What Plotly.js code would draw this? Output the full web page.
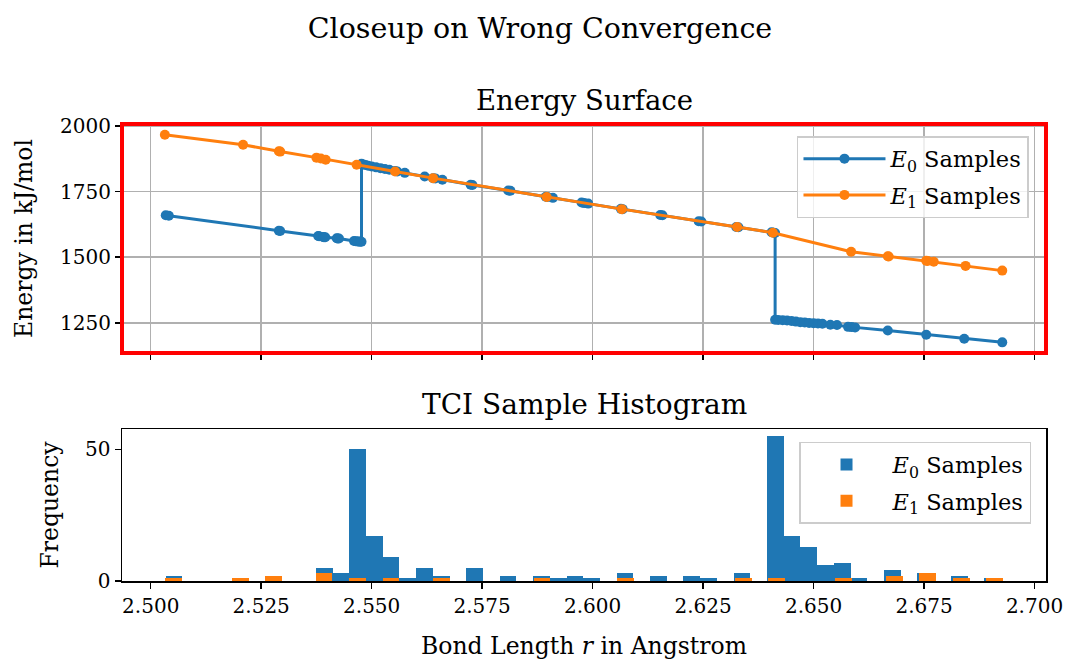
<!DOCTYPE html>
<html><head><meta charset="utf-8">
<script src="https://cdn.plot.ly/plotly-3.0.1.min.js"></script>
<style>html,body{margin:0;padding:0;background:#fff}#chart{width:1069px;height:661px}</style>
</head><body><div id="chart"></div>
<script>
// ---- Energy surface samples ----
const e0BondLength = [2.5034,2.5041,2.5290,2.5293,2.5379,2.5381,2.5390,2.5392,2.5395,2.5421,2.5423,2.5426,
  2.5460,2.5464,2.5468,2.5471,2.5474,2.5477,2.5477,2.5481,2.5486,2.5492,2.5500,2.5510,2.5520,2.5530,2.5540,
  2.5553,2.5558,2.5575,2.5620,2.5639,2.5644,2.5660,2.5724,2.5728,2.5809,2.5814,2.5894,2.5898,2.5910,2.5975,
  2.5981,2.5990,2.6064,2.6068,2.6153,2.6158,2.6240,2.6246,2.6325,2.6330,2.6405,2.6410,2.6413,2.6413,2.6420,
  2.6430,2.6440,2.6450,2.6460,2.6470,2.6480,2.6490,2.6500,2.6510,2.6520,2.6538,2.6553,2.6578,2.6586,2.6594,
  2.6668,2.6755,2.6841,2.6927];
const e0Energy = [1660,1658,1601,1600,1581,1580,1577,1576,1576,1572,1571,1571,
  1562,1561,1560,1560,1559,1559,1856,1853,1851,1848,1845,1842,1839,1836,1833,
  1828,1826,1821,1807,1801,1800,1795,1776,1775,1754,1753,1730,1729,1726,1708,
  1706,1704,1684,1683,1661,1660,1637,1636,1615,1614,1595,1593,1592,1262,1261,
  1260,1259,1257,1255,1253,1252,1250,1249,1248,1247,1243,1242,1235,1234,1233,
  1221,1205,1190,1176];
const e1BondLength = [2.5032,2.5209,2.5290,2.5293,2.5375,2.5385,2.5396,2.5466,2.5553,2.5639,2.5896,2.6066,
  2.6327,2.6408,2.6585,2.6668,2.6670,2.6755,2.6758,2.6772,2.6844,2.6927];
const e1Energy = [1966,1928,1903,1902,1879,1876,1871,1852,1826,1801,1729,1683,
  1615,1593,1521,1504,1503,1487,1486,1483,1467,1449];

// ---- Histogram (50 bins per series) ----
const e0BinRange = [2.50335, 2.69240];
const e1BinRange = [2.50317, 2.69290];
const e0Counts = [2,0,0,0,0,0,2,0,0,5, 3,50,17,9,1,5,2,0,5,0, 2,0,2,1,2,1,0,3,0,2,
  0,2,1,0,3,0,55,17,13,6, 7,1,0,4,0,3,0,2,0,1];
const e1Counts = [1,0,0,0,1,0,2,0,0,3, 0,1,0,1,0,0,1,0,0,0, 0,0,1,0,0,0,0,1,0,0,
  0,0,0,0,1,0,1,0,0,0, 1,0,0,2,0,3,0,1,0,1];

const xTickVals = [2.500,2.525,2.550,2.575,2.600,2.625,2.650,2.675,2.700];
const xTickText = ['2.500','2.525','2.550','2.575','2.600','2.625','2.650','2.675','2.700'];
const yTopTicks = [1250,1500,1750,2000];
const yBotTicks = [0,50];

const BLUE = '#1f77b4', ORANGE = '#ff7f0e';
const FONT = 'DejaVu Serif, serif';

function edges(range, counts) {
  const w = (range[1] - range[0]) / counts.length;
  return {x: counts.map((_, i) => range[0] + i * w), w: w};
}
const b0 = edges(e0BinRange, e0Counts);
const b1 = edges(e1BinRange, e1Counts);

const traces = [
  {x: e0BondLength, y: e0Energy, type: 'scatter', mode: 'lines+markers', name: '<i>E</i><sub>0</sub> Samples',
   line: {color: BLUE, width: 3}, marker: {color: BLUE, size: 10}, xaxis: 'x', yaxis: 'y',
   legend: 'legend', legendgroup: 'a'},
  {x: e1BondLength, y: e1Energy, type: 'scatter', mode: 'lines+markers', name: '<i>E</i><sub>1</sub> Samples',
   line: {color: ORANGE, width: 3}, marker: {color: ORANGE, size: 10}, xaxis: 'x', yaxis: 'y',
   legend: 'legend', legendgroup: 'b'},
  {x: b0.x, y: e0Counts, type: 'bar', width: b0.w, offset: 0, name: '<i>E</i><sub>0</sub> Samples',
   marker: {color: BLUE, line: {width: 0}}, xaxis: 'x2', yaxis: 'y2', legend: 'legend2', legendgroup: 'c'},
  {x: b1.x, y: e1Counts, type: 'bar', width: b1.w, offset: 0, name: '<i>E</i><sub>1</sub> Samples',
   marker: {color: ORANGE, line: {width: 0}}, xaxis: 'x2', yaxis: 'y2', legend: 'legend2', legendgroup: 'd'}
];

const xRange = [2.4935, 2.7026];
const common = {tickfont: {family: FONT, size: 20, color: '#000'}, ticks: 'outside', ticklen: 6, tickwidth: 1.5,
  tickcolor: '#000', zeroline: false};

const layout = {
  width: 1069, height: 661,
  margin: {l: 122, r: 23, t: 124, b: 80},
  paper_bgcolor: '#fff', plot_bgcolor: '#fff',
  font: {family: FONT, color: '#000', size: 20},
  barmode: 'overlay', bargap: 0,
  title: {text: 'Closeup on Wrong Convergence', font: {family: FONT, size: 28.5, color: '#000'},
    x: 540 / 1069, xanchor: 'center', xref: 'container', y: 1 - 28/661, yanchor: 'middle', yref: 'container'},
  xaxis: Object.assign({}, common, {domain: [0, 1], range: xRange, tickvals: xTickVals, showticklabels: false,
    showgrid: true, gridcolor: '#b0b0b0', gridwidth: 1.5, anchor: 'y', matches: 'x2'}),
  yaxis: Object.assign({}, common, {domain: [0.4989, 1], range: [1135.5, 2007], tickvals: yTopTicks,
    showgrid: true, gridcolor: '#b0b0b0', gridwidth: 1.5, anchor: 'x',
    title: {text: 'Energy in kJ/mol', font: {family: FONT, size: 23.5}, standoff: 20}}),
  xaxis2: Object.assign({}, common, {domain: [0, 1], range: xRange, tickvals: xTickVals, ticktext: xTickText,
    showgrid: false, anchor: 'y2', showline: true, mirror: true, linecolor: '#000', linewidth: 1.5,
    title: {text: 'Bond Length <i>r</i> in Angstrom', font: {family: FONT, size: 23.5}, standoff: 21}}),
  yaxis2: Object.assign({}, common, {domain: [0, 0.3326], range: [0, 57.75], tickvals: yBotTicks,
    showgrid: false, anchor: 'x2', showline: true, mirror: true, linecolor: '#000', linewidth: 1.5,
    title: {text: 'Frequency', font: {family: FONT, size: 23.5}, standoff: 20}}),
  legend: {x: 0.7305, y: 0.9737, xanchor: 'left', yanchor: 'top', xref: 'paper', yref: 'paper',
    bgcolor: 'rgba(255,255,255,0.8)', bordercolor: '#cccccc', borderwidth: 1.5,
    font: {family: FONT, size: 22.5, color: '#000'}, itemwidth: 82, tracegroupgap: 4},
  legend2: {x: 0.7327, y: 0.3042, xanchor: 'left', yanchor: 'top', xref: 'paper', yref: 'paper',
    bgcolor: 'rgba(255,255,255,0.8)', bordercolor: '#cccccc', borderwidth: 1.5,
    font: {family: FONT, size: 22.5, color: '#000'}, itemwidth: 82, tracegroupgap: 4},
  annotations: [
    {text: 'Energy Surface', xref: 'paper', yref: 'paper', x: 0.5, y: 1, yshift: 24, xanchor: 'center',
     yanchor: 'middle', showarrow: false, font: {family: FONT, size: 27.5, color: '#000'}},
    {text: 'TCI Sample Histogram', xref: 'paper', yref: 'paper', x: 0.5, y: 0.3326, yshift: 25, xanchor: 'center',
     yanchor: 'middle', showarrow: false, font: {family: FONT, size: 28, color: '#000'}}
  ],
  shapes: [
    {type: 'rect', xref: 'x domain', yref: 'y domain', x0: 0, x1: 1, y0: 0, y1: 1,
     line: {color: '#ff0000', width: 4}, layer: 'above'}
  ],
  showlegend: true
};

Plotly.newPlot('chart', traces, layout, {displayModeBar: false, staticPlot: true});
</script></body></html>
